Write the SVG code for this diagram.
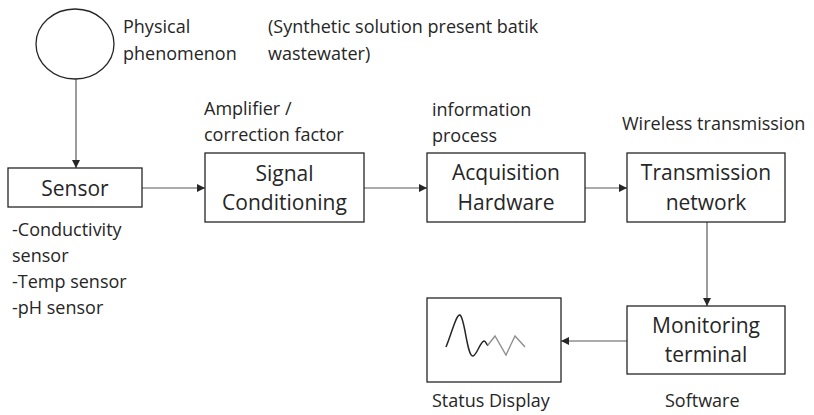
<svg xmlns="http://www.w3.org/2000/svg" width="814" height="415" viewBox="0 0 814 415">
<style>
text{font-family:"Open Sans","Liberation Sans",sans-serif;fill:#262626}
.lbl{font-size:18px}
.big{font-size:21px;text-anchor:middle}
.box{fill:#fff;stroke:#262626;stroke-width:1.3}
.con{stroke:#595959;stroke-width:1.2;fill:none;marker-end:url(#ah)}
</style>
<defs>
<marker id="ah" viewBox="0 0 10 10" refX="10" refY="5" markerWidth="8" markerHeight="8" markerUnits="userSpaceOnUse" orient="auto">
<path d="M0,0 L10,5 L0,10 z" fill="#262626"/>
</marker>
</defs>
<rect width="814" height="415" fill="#fff"/>
<g id="connectors">
<line class="con" x1="76" y1="79" x2="76" y2="168"/>
<line class="con" x1="142" y1="188" x2="205" y2="188"/>
<line class="con" x1="364" y1="188" x2="427" y2="188"/>
<line class="con" x1="585" y1="188" x2="627" y2="188"/>
<line class="con" x1="707" y1="222" x2="707" y2="306"/>
<line class="con" x1="627" y1="341" x2="561" y2="341"/>
</g>
<g id="phenomenon">
<ellipse cx="75" cy="44" rx="39" ry="35" fill="#fff" stroke="#262626" stroke-width="1.3"/>
<text class="lbl" x="123" y="33">Physical</text>
<text class="lbl" x="123" y="60">phenomenon</text>
<text class="lbl" x="268" y="33">(Synthetic solution present batik</text>
<text class="lbl" x="268" y="60">wastewater)</text>
</g>
<g id="sensor">
<rect class="box" x="8" y="168" width="134" height="39"/>
<text class="big" x="75" y="196">Sensor</text>
<text class="lbl" x="12" y="236">-Conductivity</text>
<text class="lbl" x="12" y="262">sensor</text>
<text class="lbl" x="12" y="288">-Temp sensor</text>
<text class="lbl" x="12" y="314">-pH sensor</text>
</g>
<g id="signal">
<text class="lbl" x="204" y="115">Amplifier /</text>
<text class="lbl" x="204" y="141">correction factor</text>
<rect class="box" x="205" y="153" width="159" height="69"/>
<text class="big" x="284.5" y="181">Signal</text>
<text class="big" x="284.5" y="210">Conditioning</text>
</g>
<g id="acquisition">
<text class="lbl" x="432" y="116">information</text>
<text class="lbl" x="432" y="142">process</text>
<rect class="box" x="427" y="153" width="158" height="69"/>
<text class="big" x="506" y="180">Acquisition</text>
<text class="big" x="506" y="210">Hardware</text>
</g>
<g id="transmission">
<text class="lbl" x="622" y="130">Wireless transmission</text>
<rect class="box" x="627" y="153" width="158" height="69"/>
<text class="big" x="706" y="180">Transmission</text>
<text class="big" x="706" y="210">network</text>
</g>
<g id="monitoring">
<rect class="box" x="627" y="306" width="158" height="68"/>
<text class="big" x="706" y="333">Monitoring</text>
<text class="big" x="706" y="362">terminal</text>
<text class="lbl" x="665" y="407">Software</text>
</g>
<g id="display">
<rect class="box" x="427" y="298" width="134" height="84"/>
<path d="M446,347 C452,333 456,314 460,315 C465,318 467,357 473,356 C477,355 480,342 484,341 C486,341 487,346 488,345" fill="none" stroke="#262626" stroke-width="1.5"/>
<path d="M488,345 L495,336 L506,355 L515,336 L525,347" fill="none" stroke="#8c8c8c" stroke-width="1.3"/>
<text class="lbl" x="432" y="407">Status Display</text>
</g>
</svg>
